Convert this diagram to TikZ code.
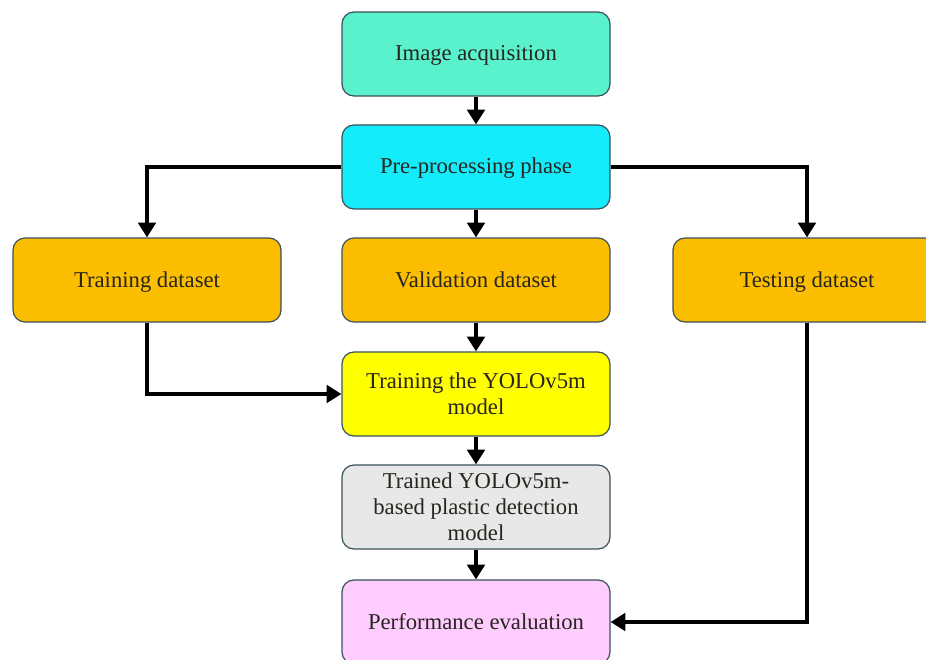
\documentclass[tikz,border=0pt]{standalone}
\usepackage{fontspec}
\setmainfont{Liberation Serif}
\usetikzlibrary{arrows.meta,positioning}
\definecolor{acqmint}{RGB}{90,242,204}
\definecolor{prepcyan}{RGB}{20,236,252}
\definecolor{setorange}{RGB}{252,190,0}
\definecolor{yoloyellow}{RGB}{255,255,0}
\definecolor{modelgray}{RGB}{232,232,232}
\definecolor{perfpink}{RGB}{255,204,255}
\definecolor{boxline}{RGB}{60,80,92}
\definecolor{textdark}{RGB}{40,36,30}

\begin{document}
\begin{tikzpicture}[x=0.75pt,y=-0.75pt,
		stage/.style={draw=boxline, line width=0.9pt, rounded corners=9pt, minimum width=201pt, minimum height=63pt, align=center, text=textdark, inner sep=2pt, execute at begin node=\rule{0pt}{15pt}, text depth=4.5pt, font=\fontsize{17}{19.5}\selectfont},
		flow/.style={line width=3.4pt, -{Triangle[length=11pt,width=13pt]}}]
			\clip (0,0) rectangle (926,660);
			\fill[white] (0,0) rectangle (926,660);
			% stages
			\node[stage, fill=acqmint] (acq) at (476,54) {Image acquisition};
			\node[stage, fill=prepcyan] (prep) at (476,167) {Pre-processing phase};
			\node[stage, fill=setorange] (trainset) at (147,280) {Training dataset};
			\node[stage, fill=setorange] (valset) at (476,280) {Validation dataset};
			\node[stage, fill=setorange] (testset) at (807,280) {Testing dataset};
			\node[stage, fill=yoloyellow, text depth=-0.7pt] (yolo) at (476,394) {Training the YOLOv5m\\model};
			\node[stage, fill=modelgray, text depth=-5.3pt] (trained) at (476,507) {Trained YOLOv5m-\\based plastic detection\\model};
			\node[stage, fill=perfpink] (perf) at (476,622) {Performance evaluation};
			% connectors
			\draw[flow] (acq) -- (prep);
			\draw[flow] (prep.west) -| (trainset.north);
			\draw[flow] (prep) -- (valset);
			\draw[flow] (prep.east) -| (testset.north);
			\draw[flow] (valset) -- (yolo);
			\draw[flow] (trainset.south) |- (yolo.west);
			\draw[flow] (yolo) -- (trained);
			\draw[flow] (trained) -- (perf);
			\draw[flow] (testset.south) |- (perf.east);
		\end{tikzpicture}
\end{document}
